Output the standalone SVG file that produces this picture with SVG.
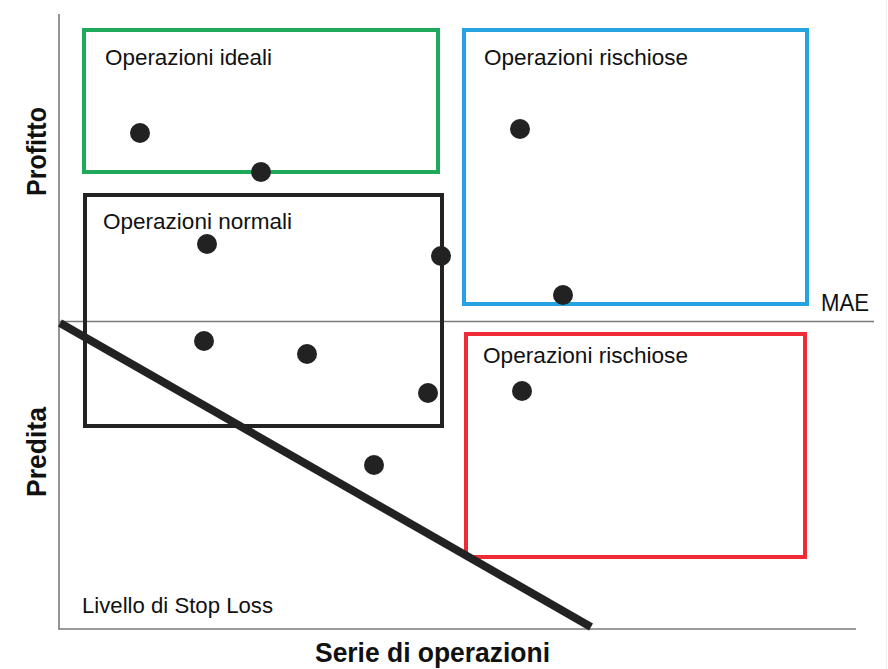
<svg xmlns="http://www.w3.org/2000/svg" width="888" height="669" viewBox="0 0 888 669">
<style>
.axis{stroke:#7a7a7a;stroke-width:1.6;fill:none}
.box{fill:none;stroke-width:4}
.dot{fill:#222}
.lbl{font-family:"Liberation Sans","DejaVu Sans",sans-serif;font-size:22px;fill:#111}
.title{font-family:"Liberation Sans","DejaVu Sans",sans-serif;font-size:28px;font-weight:bold;fill:#111}
</style>
<rect width="888" height="669" fill="#fff"/>
<line x1="886.5" y1="0" x2="886.5" y2="669" stroke="#eeeeee" stroke-width="1"/>
<g id="axes">
<line class="axis" x1="59" y1="14" x2="59" y2="629"/>
<line class="axis" x1="58.2" y1="629" x2="856" y2="629"/>
<line class="axis" x1="59" y1="321.5" x2="874" y2="321.5"/>
</g>
<g id="ideali">
<rect class="box" x="84" y="30" width="354" height="142" stroke="#1fa95a"/>
<text class="lbl" x="105" y="65" textLength="167" lengthAdjust="spacingAndGlyphs">Operazioni ideali</text>
</g>
<g id="rischiose-top">
<rect class="box" x="464" y="30" width="343" height="274" stroke="#25a3de"/>
<text class="lbl" x="484" y="65" textLength="204" lengthAdjust="spacingAndGlyphs">Operazioni rischiose</text>
</g>
<g id="normali">
<rect class="box" x="85" y="195" width="357" height="231" stroke="#222"/>
<text class="lbl" x="103" y="229" textLength="189" lengthAdjust="spacingAndGlyphs">Operazioni normali</text>
</g>
<g id="rischiose-bottom">
<rect class="box" x="466" y="334" width="339" height="223" stroke="#ee2c35"/>
<text class="lbl" x="483" y="363" textLength="205" lengthAdjust="spacingAndGlyphs">Operazioni rischiose</text>
</g>
<g id="connectors">
<line x1="60" y1="323" x2="591" y2="627" stroke="#222" stroke-width="8"/>
</g>
<g id="dots">
<circle class="dot" cx="140" cy="133" r="10"/>
<circle class="dot" cx="261" cy="172" r="10"/>
<circle class="dot" cx="207" cy="244" r="10"/>
<circle class="dot" cx="441" cy="256" r="10"/>
<circle class="dot" cx="520" cy="129" r="10"/>
<circle class="dot" cx="563" cy="295" r="10"/>
<circle class="dot" cx="204" cy="341" r="10"/>
<circle class="dot" cx="307" cy="354" r="10"/>
<circle class="dot" cx="428" cy="393" r="10"/>
<circle class="dot" cx="374" cy="465" r="10"/>
<circle class="dot" cx="522" cy="391" r="10"/>
</g>
<g id="labels">
<text class="lbl" x="821" y="311" style="font-size:24px" textLength="48" lengthAdjust="spacingAndGlyphs">MAE</text>
<text class="lbl" x="82" y="613" textLength="191" lengthAdjust="spacingAndGlyphs">Livello di Stop Loss</text>
<text class="title" x="315" y="662" textLength="235" lengthAdjust="spacingAndGlyphs">Serie di operazioni</text>
<text class="title" transform="translate(46 196) rotate(-90)" textLength="89" lengthAdjust="spacingAndGlyphs">Profitto</text>
<text class="title" transform="translate(46 497) rotate(-90)" textLength="90" lengthAdjust="spacingAndGlyphs">Predita</text>
</g>
</svg>
